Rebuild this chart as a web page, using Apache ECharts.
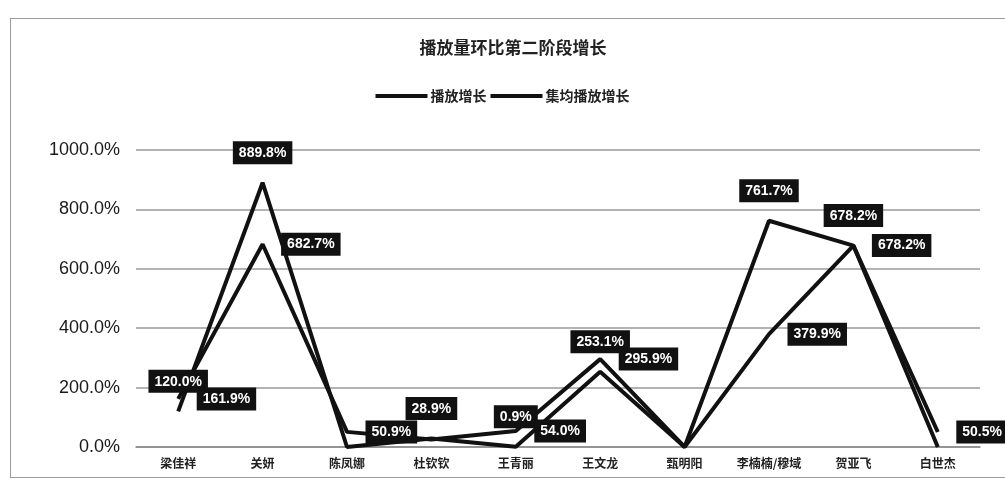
<!DOCTYPE html>
<html>
<head>
<meta charset="utf-8">
<script src="https://cdn.jsdelivr.net/npm/echarts@6/dist/echarts.min.js"></script>
<style>
html,body{margin:0;padding:0;background:#fff;}
#frame{position:absolute;left:10px;top:18px;width:1010px;height:460px;border:1px solid #9a9a9a;box-sizing:border-box;}
#chart{position:absolute;left:0;top:0;width:1005px;height:485px;}
</style>
</head>
<body>
<div id="frame"></div>
<div id="chart"></div>
<script>
const titleText = '播放量环比第二阶段增长';
const seriesNames = ['播放增长', '集均播放增长'];
const categories = ['梁佳祥', '关妍', '陈凤娜', '杜钦钦', '王青丽', '王文龙', '甄明阳', '李楠楠/穆域', '贺亚飞', '白世杰'];
const playGrowth = [120.0, 889.8, 0, 28.9, 0.9, 253.1, 0, 761.7, 678.2, 0];
const avgPlayGrowth = [161.9, 682.7, 50.9, 25.0, 54.0, 295.9, 0, 379.9, 678.2, 50.5];
const unlabeledPlay = ['陈凤娜', '甄明阳', '白世杰'];
const unlabeledAvg = ['杜钦钦', '甄明阳'];
const yTicks = [0, 200, 400, 600, 800, 1000];

const labelBase = {
  show: true,
  color: '#fff',
  backgroundColor: '#111',
  padding: [5, 6, 4, 6],
  fontFamily: 'Liberation Sans, Arial, sans-serif',
  fontSize: 14,
  fontWeight: 'bold',
  formatter: p => p.value.toFixed(1) + '%'
};

function buildData(vals, hidden) {
  return vals.map((v, i) => hidden.includes(categories[i]) ? { value: v, label: { show: false } } : v);
}

function lineSeries(name, vals) {
  return {
    name: name, type: 'line', data: vals,
    symbol: 'none',
    itemStyle: { color: '#111' },
    lineStyle: { color: '#111', width: 4 },
    label: { show: false },
    z: 2
  };
}
function labelSeries(name, vals, hidden, pos, dist) {
  return {
    name: name, type: 'line', data: buildData(vals, hidden),
    symbol: 'circle', symbolSize: 1,
    itemStyle: { color: 'rgba(0,0,0,0)' },
    lineStyle: { width: 0, color: 'rgba(0,0,0,0)' },
    label: Object.assign({}, labelBase, { position: pos, distance: dist }),
    z: 10
  };
}

const chart = echarts.init(document.getElementById('chart'), null, { renderer: 'canvas' });
chart.setOption({
  backgroundColor: 'transparent',
  animation: false,
  title: {
    text: titleText,
    left: 508,
    textAlign: 'center',
    top: 34,
    textStyle: { fontFamily: 'Noto Sans CJK SC', fontSize: 17, fontWeight: 'bold', color: '#222' }
  },
  legend: {
    top: 84,
    left: 'center',
    itemGap: 4,
    itemWidth: 52,
    itemHeight: 4,
    icon: 'rect',
    itemStyle: { color: '#111' },
    textStyle: { fontFamily: 'Noto Sans CJK SC', fontSize: 14, fontWeight: 'bold', color: '#222', padding: [0, 0, 0, -2] },
    data: seriesNames
  },
  grid: { left: 136, right: 25, top: 150, bottom: 38, containLabel: false },
  xAxis: {
    type: 'category',
    data: categories,
    boundaryGap: true,
    axisLine: { lineStyle: { color: '#8a8a8a', width: 1.5 } },
    axisTick: { show: false },
    axisLabel: { interval: 0, margin: 10, fontFamily: 'Noto Sans CJK SC', fontSize: 12, fontWeight: 'bold', color: '#222' }
  },
  yAxis: {
    type: 'value',
    min: yTicks[0],
    max: yTicks[yTicks.length - 1],
    interval: 200,
    axisLine: { show: false },
    axisTick: { show: false },
    axisLabel: {
      margin: 16,
      fontFamily: 'Liberation Sans, Arial, sans-serif',
      fontSize: 18,
      color: '#1a1a1a',
      formatter: v => v.toFixed(1) + '%'
    },
    splitLine: { lineStyle: { color: '#9a9a9a', width: 1.5 } }
  },
  series: [
    lineSeries(seriesNames[0], playGrowth),
    lineSeries(seriesNames[1], avgPlayGrowth),
    labelSeries(seriesNames[0], playGrowth, unlabeledPlay, 'top', 18),
    labelSeries(seriesNames[1], avgPlayGrowth, unlabeledAvg, 'right', 18)
  ]
});
</script>
</body>
</html>
